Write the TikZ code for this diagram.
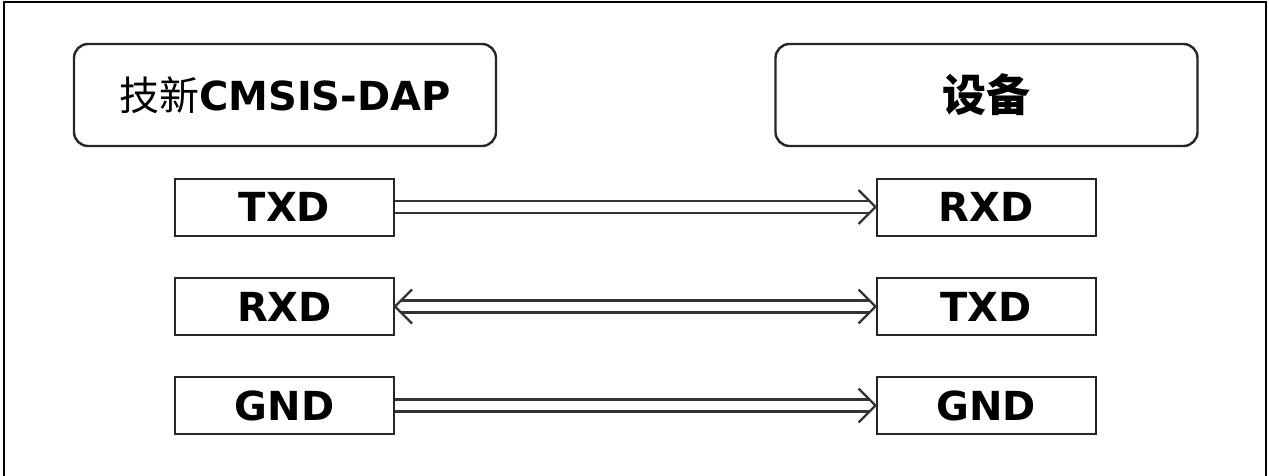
\documentclass[tikz,border=0pt]{standalone}
\usepackage{fontspec}
\setmainfont{DejaVu Sans}
\newfontfamily\cjk{Noto Sans CJK SC}
\begin{document}
\begin{tikzpicture}[x=1pt,y=-1pt,
  bigbox/.style={draw=black!85,line width=2.4pt,rounded corners=14pt,minimum width=422pt,minimum height=102pt,inner sep=0pt},
  sigbox/.style={draw=black!85,line width=2pt,minimum width=219pt,minimum height=57pt,inner sep=0pt,font=\bfseries\fontsize{40}{40}\selectfont},
  dbl/.style={double=white,double distance=9.5pt,line width=2.3pt,draw=black!80},
  headline/.style={draw=black!80,line width=2.3pt,line join=miter}]
\useasboundingbox (0,0) rectangle (1269,476);
\draw[line width=2pt] (4,480) -- (4,2) -- (1266,2) -- (1266,480);
\node[bigbox] (dap) at (285,95) {\fontsize{40}{40}\selectfont{\cjk 技新}\bfseries CMSIS-DAP};
\node[bigbox] (dev) at (986.5,95) {\cjk\bfseries\fontsize{44}{44}\selectfont 设备};
\node[sigbox] (ltx) at (284.5,207) {TXD};
\node[sigbox] (lrx) at (284.5,306.5) {RXD};
\node[sigbox] (lgnd) at (284.5,405.5) {GND};
\node[sigbox] (rrx) at (986,207) {RXD};
\node[sigbox] (rtx) at (986,306.5) {TXD};
\node[sigbox] (rgnd) at (986,405.5) {GND};
% TXD -> RXD
\draw[dbl,shorten >=6pt] (ltx) -- (rrx);
\draw[headline] (rrx.west) ++(-17,-17) -- (rrx.west) -- ++(-17,17);
% RXD <-> TXD
\draw[dbl,shorten >=6pt,shorten <=6pt] (lrx) -- (rtx);
\draw[headline] (rtx.west) ++(-17,-17) -- (rtx.west) -- ++(-17,17);
\draw[headline] (lrx.east) ++(17,-17) -- (lrx.east) -- ++(17,17);
% GND -> GND
\draw[dbl,shorten >=6pt] (lgnd) -- (rgnd);
\draw[headline] (rgnd.west) ++(-17,-17) -- (rgnd.west) -- ++(-17,17);
\end{tikzpicture}
\end{document}
